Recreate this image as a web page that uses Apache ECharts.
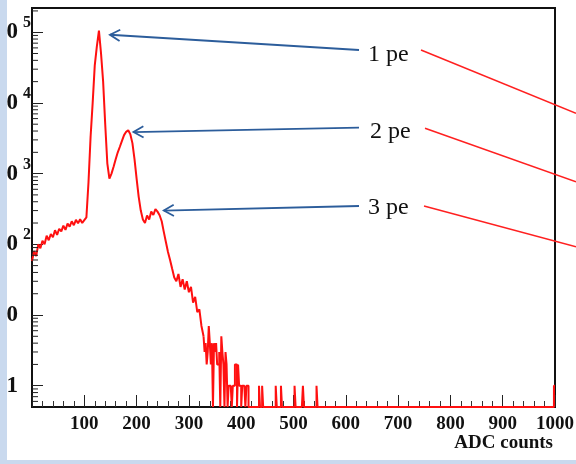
<!DOCTYPE html>
<html><head><meta charset="utf-8">
<script src="https://cdn.jsdelivr.net/npm/echarts@6/dist/echarts.min.js"></script>
<style>html,body{margin:0;padding:0;background:#fff;}#c{width:576px;height:464px;}</style>
</head><body><div id="c"></div>
<script>
// ---- data ----
const mainBinStep = 4; // ADC counts between main-body samples, starting at 0
const mainCounts = [
  58, 80, 68, 100, 88, 112, 100, 132, 114, 140,
  126, 158, 136, 166, 152, 184, 160, 196, 178, 212,
  186, 222, 198, 226, 200, 220, 240, 750, 3300, 10000,
  34000, 63000, 105000, 50000, 20000, 5000, 1400, 850, 1000, 1250,
  1600, 2000, 2400, 2900, 3500, 3900, 4100, 3600, 2700, 1600,
  850, 470, 300, 225, 200, 255, 225, 290, 260, 315,
  290, 258, 212, 150, 108, 78, 60, 45, 34, 30,
  38, 25, 32, 23, 30, 21, 25, 15, 18, 11,
  12, 7, 5
];
const tailBinWidth = 2;
const tailBins = [ // [ADC bin start, count] for non-empty bins of the tail
  [330,3],[332,4],[334,2],[336,3],[338,7],[340,4],[342,2],[344,4],[348,4],[350,3],
  [352,4],[354,2],[356,2],[358,3],[362,5],[364,3],[366,2],[370,3],[372,2],[376,1],
  [378,1],[380,1],[384,1],[386,1],[388,2],[390,2],[394,2],[396,1],[398,1],[402,1],
  [404,1],[406,1],[410,1],[412,1],[434,1],[440,1],[466,1],[476,1],[502,1],[518,1],
  [544,1],[998,1]
];
const xTickValues = [100, 200, 300, 400, 500, 600, 700, 800, 900, 1000];
const peakLabels = ['1 pe', '2 pe', '3 pe'];
const peakArrowTips = [[149, 92000], [194, 3870], [252, 300]]; // [ADC, counts]
const X_MAX = 1000, Y_MIN = 0.5, Y_MAX = 2.2e5;

// ---- build series ----
const mainData = mainCounts.map((c, i) => [i * mainBinStep, c]);
const tailMap = new Map(tailBins.map(b => [b[0], b[1]]));
const lastMainX = (mainCounts.length - 1) * mainBinStep;
const tailData = [[lastMainX, mainCounts[mainCounts.length - 1]]];
for (let a = lastMainX + tailBinWidth; a < X_MAX; a += tailBinWidth) {
  const c = tailMap.get(a) || 0;
  tailData.push([a, c > 0 ? c : Y_MIN]);
}
tailData.push([X_MAX, tailData[tailData.length - 1][1]]);

const yMinor = [];
for (let k = -1; k <= 5; k++) for (let m = 2; m <= 9; m++) {
  const v = m * Math.pow(10, k);
  if (v > Y_MIN && v < Y_MAX) yMinor.push([0, v]);
}

const serif = 'Liberation Serif';
const chart = echarts.init(document.getElementById('c'), null, {renderer: 'canvas'});
chart.setOption({
  animation: false,
  backgroundColor: '#fff',
  grid: {left: 32, right: 21, top: 8, bottom: 57, containLabel: false, outerBoundsMode: 'none',
         show: true, borderColor: '#111', borderWidth: 2, backgroundColor: '#fff'},
  xAxis: {
    type: 'value', min: 0, max: X_MAX, interval: 100,
    name: 'ADC counts', nameLocation: 'end', nameGap: -2,
    nameTextStyle: {fontFamily: serif, fontWeight: 'bold', fontSize: 19, color: '#111', align: 'right', verticalAlign: 'top', padding: [27, 0, 0, 0]},
    axisLine: {show: true, onZero: false, lineStyle: {color: '#111', width: 2}},
    axisTick: {show: true, inside: true, length: 12, lineStyle: {color: '#222', width: 1}},
    minorTick: {show: true, splitNumber: 5, length: 6, lineStyle: {color: '#333', width: 1}},
    splitLine: {show: false},
    axisLabel: {
      showMinLabel: false, margin: 8, fontFamily: serif, fontWeight: 'bold', fontSize: 19, color: '#111',
      formatter: v => xTickValues.indexOf(v) >= 0 ? String(v) : ''
    }
  },
  yAxis: {
    type: 'log', logBase: 10, min: Y_MIN, max: Y_MAX,
    axisLine: {show: true, onZero: false, lineStyle: {color: '#111', width: 2}},
    axisTick: {show: true, inside: true, length: 11, lineStyle: {color: '#222', width: 1}},
    minorTick: {show: false},
    splitLine: {show: false},
    axisLabel: {
      showMinLabel: false, showMaxLabel: false, margin: 1, align: 'right',
      formatter: v => {
        const l = Math.log10(v), e = Math.round(l);
        if (Math.abs(l - e) > 1e-6) return '';
        if (e === 0) return '{b|1}{p|}';
        if (e === 1) return '{b|10}{p|}';
        return '{b|10}{g|}{s|' + e + '}';
      },
      rich: {
        b: {fontFamily: serif, fontWeight: 'bold', fontSize: 23, lineHeight: 34, color: '#111', verticalAlign: 'middle'},
        s: {fontFamily: serif, fontWeight: 'bold', fontSize: 16, lineHeight: 15, color: '#111', verticalAlign: 'top'},
        g: {width: 5},
        p: {width: 13}
      }
    }
  },
  series: [
    {type: 'line', data: mainData, showSymbol: false, symbol: 'none', lineStyle: {color: '#ff1010', width: 2}, z: 3},
    {type: 'line', data: tailData, step: 'end', showSymbol: false, symbol: 'none', lineStyle: {color: '#ff1010', width: 2}, z: 3},
    {
      type: 'custom', data: yMinor, silent: true, clip: false, z: 4,
      renderItem: (params, api) => {
        const p = api.coord([api.value(0), api.value(1)]);
        return {type: 'line', shape: {x1: p[0], y1: p[1], x2: p[0] + 6, y2: p[1]}, style: {stroke: '#222', lineWidth: 1}};
      }
    }
  ]
});

// ---- annotations ----
const blue = '#2c5d9b', red = '#ff2020';
const textPos = [[368, 55], [370, 132], [368, 208]];
const arrowStart = [[359, 50], [359, 127.7], [359, 206]];
const redLines = [[[421, 50], [576, 113.3]], [[425, 128.3], [576, 181.7]], [[424, 206], [576, 246.7]]];
const els = [];
peakArrowTips.forEach((tipData, i) => {
  const tip = chart.convertToPixel({gridIndex: 0}, tipData);
  const s = arrowStart[i];
  const dx = s[0] - tip[0], dy = s[1] - tip[1], L = Math.hypot(dx, dy);
  const ux = dx / L, uy = dy / L, nx = -uy, ny = ux;
  els.push({type: 'line', z: 50, shape: {x1: s[0], y1: s[1], x2: tip[0], y2: tip[1]}, style: {stroke: blue, lineWidth: 1.8}});
  els.push({type: 'polyline', z: 50, shape: {points: [
    [tip[0] + 10 * ux + 5.7 * nx, tip[1] + 10 * uy + 5.7 * ny], tip,
    [tip[0] + 10 * ux - 5.7 * nx, tip[1] + 10 * uy - 5.7 * ny]]}, style: {stroke: blue, lineWidth: 1.8, fill: null}});
  els.push({type: 'text', z: 50, x: textPos[i][0], y: textPos[i][1], style: {text: peakLabels[i], fontFamily: serif, fontSize: 24, fill: '#111', verticalAlign: 'middle', align: 'left'}});
  els.push({type: 'line', z: 50, shape: {x1: redLines[i][0][0], y1: redLines[i][0][1], x2: redLines[i][1][0], y2: redLines[i][1][1]}, style: {stroke: red, lineWidth: 1.5}});
});
els.push({type: 'rect', z: 100, shape: {x: 0, y: 0, width: 7, height: 464}, style: {fill: '#c9d9ee'}});
els.push({type: 'rect', z: 100, shape: {x: 0, y: 460, width: 576, height: 4}, style: {fill: '#c9d9ee'}});
chart.setOption({graphic: {elements: els}});
</script>
</body></html>
